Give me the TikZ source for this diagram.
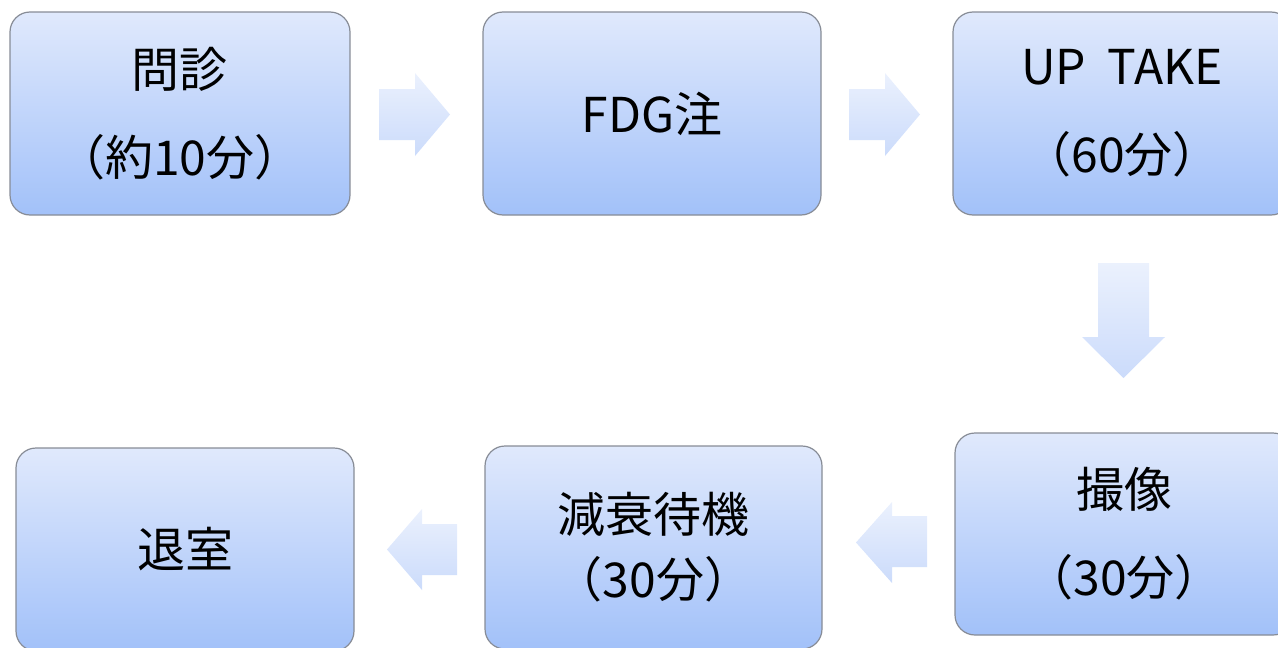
\documentclass[tikz,border=0pt]{standalone}
\usepackage{fontspec}
\setmainfont{Noto Sans CJK JP}
\definecolor{boxtop}{RGB}{224,233,252}
\definecolor{boxbot}{RGB}{162,193,249}
\definecolor{boxline}{RGB}{135,140,150}
\definecolor{arrtop}{RGB}{235,241,253}
\definecolor{arrbot}{RGB}{203,219,251}
\tikzset{
  stepbox/.style={rectangle, rounded corners=20pt, draw=boxline, line width=1.2pt,
    top color=boxtop, bottom color=boxbot, inner sep=0pt, align=center,
    minimum height=203pt, minimum width=338pt,
    font=\fontsize{48}{88}\selectfont},
  blockarrow/.style={top color=arrtop, bottom color=arrbot, draw=none}
}
\begin{document}
\begin{tikzpicture}[x=1pt,y=-1pt]
\useasboundingbox (0,0) rectangle (1278,648);
\clip (0,0) rectangle (1278,648);
\node[stepbox, minimum width=340pt] (b1) at (180,113.5) {問診\\（約10分）};
\node[stepbox] (b2) at (652,113.5) {FDG注};
\node[stepbox] (b3) at (1122,113.5) {UP\ \ TAKE\\（60分）};
\node[stepbox, minimum height=202pt] (b4) at (1124,534) {撮像\\（30分）};
\node[stepbox, minimum width=337pt, font=\fontsize{48}{65}\selectfont] (b5) at (653.5,547.5) {減衰待機\\（30分）};
\node[stepbox] (b6) at (185,549.5) {退室};
% block arrows
\path[blockarrow] (379,89) -- (415,89) -- (415,73) -- (450,114.5) -- (415,156) -- (415,140) -- (379,140) -- cycle;
\path[blockarrow] (849,89) -- (885,89) -- (885,73) -- (920,114.5) -- (885,156) -- (885,140) -- (849,140) -- cycle;
\path[blockarrow] (1098,263) -- (1149,263) -- (1149,337) -- (1165,337) -- (1123.5,378) -- (1082,337) -- (1098,337) -- cycle;
\path[blockarrow] (927,516) -- (892,516) -- (892,502) -- (856,542.5) -- (892,583) -- (892,567) -- (927,567) -- cycle;
\path[blockarrow] (457,524) -- (422,524) -- (422,509) -- (387,549.5) -- (422,590) -- (422,575) -- (457,575) -- cycle;
\end{tikzpicture}
\end{document}
